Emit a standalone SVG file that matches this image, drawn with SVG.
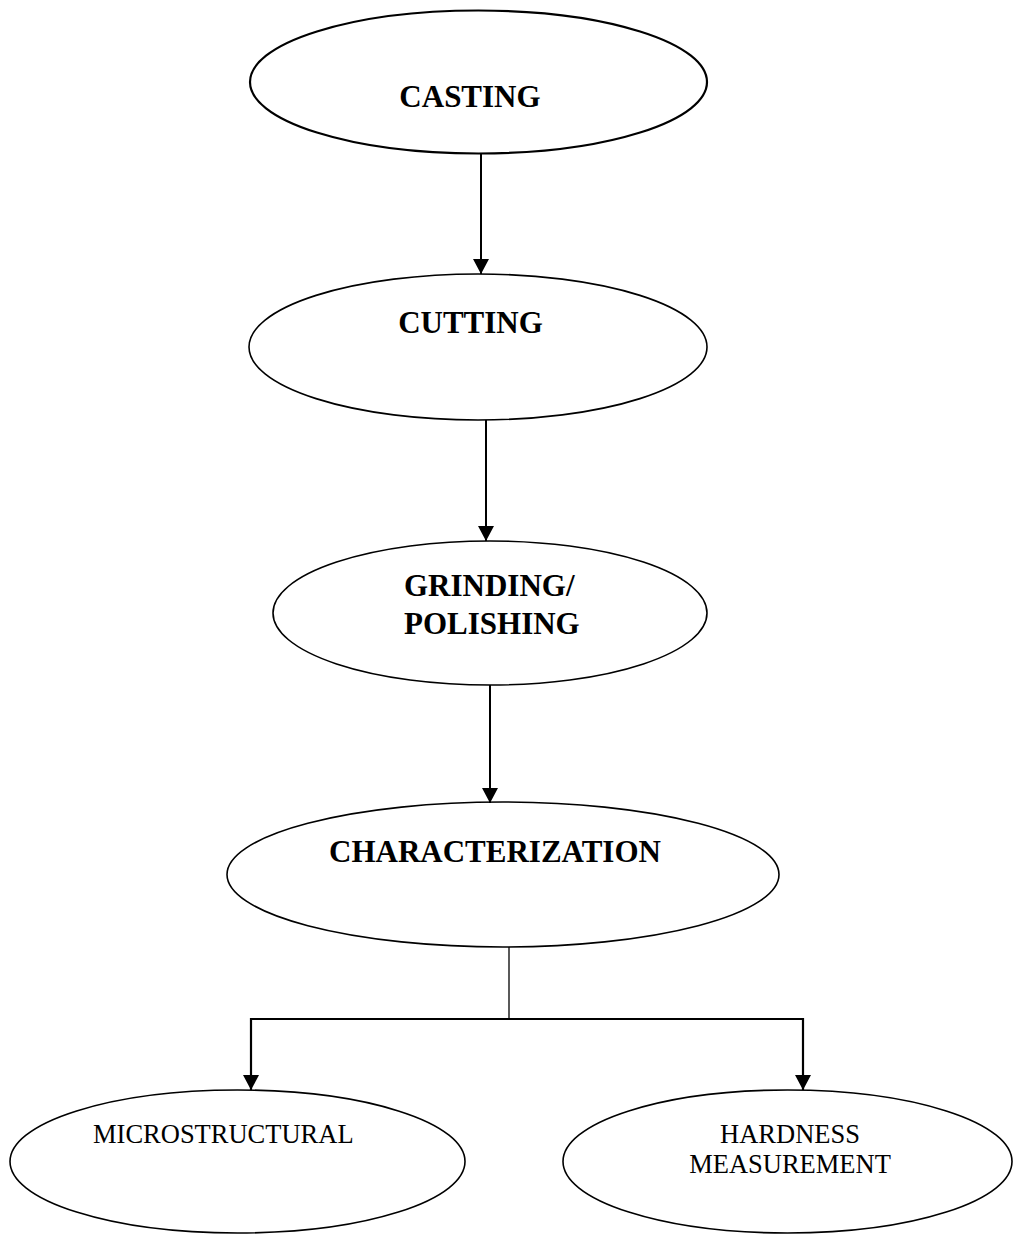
<svg xmlns="http://www.w3.org/2000/svg" width="1013" height="1235" viewBox="0 0 1013 1235">
<style>
.node ellipse{fill:#fff;stroke:#000;stroke-width:1.6}
.b{font-family:"Liberation Serif","Times New Roman",serif;font-weight:bold;font-size:31px;fill:#000}
.r{font-family:"Liberation Serif","Times New Roman",serif;font-size:26.5px;fill:#000}
.c line,.c path{stroke:#000;fill:none}
</style>
<defs>
<marker id="ah" markerUnits="userSpaceOnUse" markerWidth="17" markerHeight="17" refX="15" refY="8" orient="auto">
<path d="M0,0 L15,8 L0,16 z" fill="#000"/>
</marker>
</defs>
<g id="casting" class="node">
<ellipse cx="478.5" cy="82" rx="228.5" ry="71.5" style="stroke-width:2.2"/>
<text class="b" x="470" y="107" text-anchor="middle">CASTING</text>
</g>
<g id="cutting" class="node">
<ellipse cx="478" cy="347" rx="229" ry="73"/>
<text class="b" x="470.5" y="333" text-anchor="middle">CUTTING</text>
</g>
<g id="grinding" class="node">
<ellipse cx="490" cy="613" rx="217" ry="72"/>
<text class="b" x="404" y="596">GRINDING/</text>
<text class="b" x="404" y="634">POLISHING</text>
</g>
<g id="characterization" class="node">
<ellipse cx="503" cy="874.5" rx="276" ry="72.5"/>
<text class="b" x="495" y="862" text-anchor="middle">CHARACTERIZATION</text>
</g>
<g id="microstructural" class="node">
<ellipse cx="237.5" cy="1161.5" rx="227.5" ry="71.5"/>
<text class="r" x="93" y="1143">MICROSTRUCTURAL</text>
</g>
<g id="hardness" class="node">
<ellipse cx="787.5" cy="1161.5" rx="224.5" ry="71.5"/>
<text class="r" x="790" y="1143" text-anchor="middle">HARDNESS</text>
<text class="r" x="790" y="1173" text-anchor="middle">MEASUREMENT</text>
</g>
<g id="connectors" class="c">
<line x1="481" y1="154" x2="481" y2="274" stroke-width="2" marker-end="url(#ah)"/>
<line x1="486" y1="420" x2="486" y2="541" stroke-width="2" marker-end="url(#ah)"/>
<line x1="490" y1="685" x2="490" y2="803" stroke-width="2" marker-end="url(#ah)"/>
<line x1="509" y1="947" x2="509" y2="1019" stroke-width="1.3"/>
<path d="M509,1019 H251 V1090" stroke-width="2.2" marker-end="url(#ah)"/>
<path d="M509,1019 H803 V1090" stroke-width="2.2" marker-end="url(#ah)"/>
</g>
</svg>
